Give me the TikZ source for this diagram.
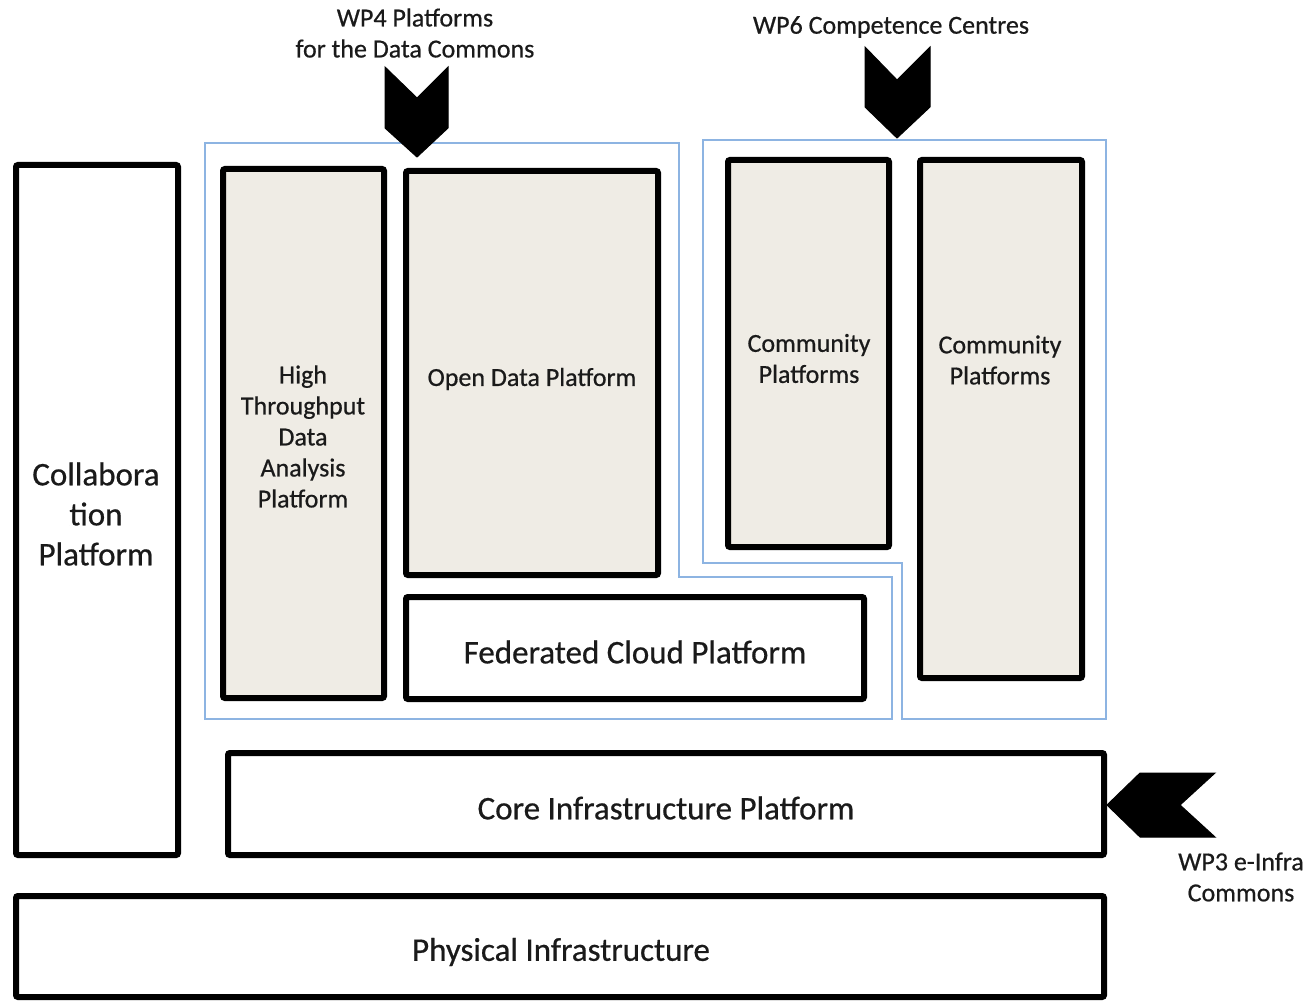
\documentclass[tikz,border=0pt]{standalone}
\usepackage{fontspec}
\setmainfont{Carlito}[FakeBold=0.6]
\definecolor{beige}{HTML}{EFECE5}
\definecolor{lblue}{HTML}{8DB4E2}
\definecolor{txtc}{HTML}{1A1A1A}
\begin{document}
\begin{tikzpicture}[x=1pt,y=-1pt,
  box/.style={draw=black,line width=6pt,rounded corners=2pt,anchor=north west,inner sep=0pt},
  tall/.style={box,fill=beige},
  lab/.style={text=txtc,align=center,inner sep=0pt,font=\fontsize{26}{31}\selectfont},
  biglab/.style={text=txtc,align=center,inner sep=0pt,font=\fontsize{33}{40}\selectfont},
  region/.style={draw=lblue,line width=2pt},
  chev/.style={fill=black,draw=black,line width=1pt,line join=miter}]
\useasboundingbox (0,0) rectangle (1311,1003);
% blue regions
\draw[region] (205,143) -- (679,143) -- (679,577) -- (892,577) -- (892,719) -- (205,719) -- cycle;
\draw[region] (703,140) -- (1106,140) -- (1106,719) -- (902,719) -- (902,563) -- (703,563) -- cycle;
% boxes
\node[box,minimum width=162pt,minimum height=690pt] (collab) at (13,162) {};
\node[tall,minimum width=161pt,minimum height=529pt] (hta) at (220,166) {};
\node[tall,minimum width=252pt,minimum height=404pt] (odp) at (403,168) {};
\node[box,minimum width=458pt,minimum height=102pt] (fed) at (403,594) {};
\node[tall,minimum width=161pt,minimum height=387pt] (cp1) at (725,157) {};
\node[tall,minimum width=162pt,minimum height=518pt] (cp2) at (917,157) {};
\node[box,minimum width=876pt,minimum height=102pt] (core) at (225,750) {};
\node[box,minimum width=1088pt,minimum height=101pt] (phys) at (13,893) {};
% box texts
\node[biglab] (collabt) at (96,514) {Collabora\\tion\\Platform};
\node[lab] (htat) at (303,436.5) {High\\Throughput\\Data\\Analysis\\Platform};
\node[lab] (odpt) at (532,379) {Open Data Platform};
\node[biglab] (fedt) at (635,652) {Federated Cloud Platform};
\node[lab] (cp1t) at (809,358.5) {Community\\Platforms};
\node[lab] (cp2t) at (1000,360) {Community\\Platforms};
\node[biglab] (coret) at (666,808) {Core Infrastructure Platform};
\node[biglab] (physt) at (561,952) {Physical Infrastructure};
% chevrons
\fill[chev] (385,67) -- (417,98) -- (448,67) -- (448,128) -- (417,157) -- (385,128) -- cycle;
\fill[chev] (865,47) -- (897,80) -- (930,47) -- (930,107) -- (897,138) -- (865,107) -- cycle;
\fill[chev] (1107,805) -- (1140,773) -- (1215,773) -- (1180,805) -- (1215,837) -- (1140,837) -- cycle;
% labels
\node[lab] (wp4) at (415,33) {WP4 Platforms\\for the Data Commons};
\node[lab] (wp6) at (891,27) {WP6 Competence Centres};
\node[lab] (wp3) at (1241,877) {WP3 e-Infra\\Commons};
\end{tikzpicture}
\end{document}
